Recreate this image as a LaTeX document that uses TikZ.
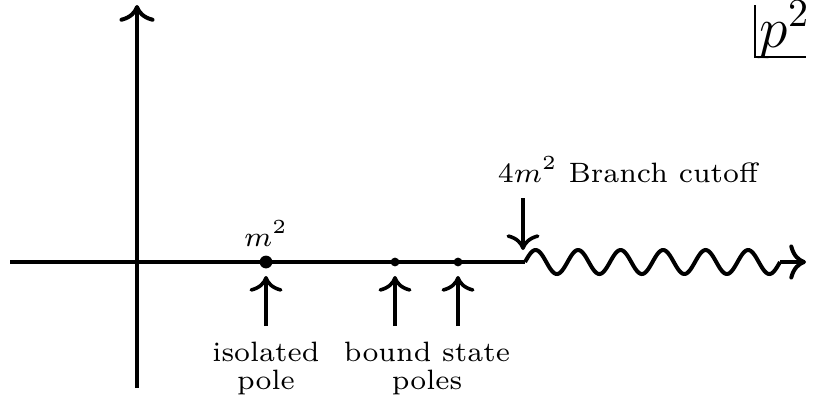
\documentclass[tikz,border=0pt]{standalone}
\usetikzlibrary{arrows.meta}
\begin{document}
\begin{tikzpicture}[x=0.25pt,y=-0.25pt,
  axis/.style={line width=1pt},
  tip/.style={-{Computer Modern Rightarrow[scale=1.1]}},
  ptr/.style={line width=0.9pt,tip},
  lbl/.style={font=\scriptsize,align=center,inner sep=0pt},
  bigdot/.style={circle,fill,inner sep=0pt,minimum size=3.2pt},
  smalldot/.style={circle,fill,inner sep=0pt,minimum size=2.2pt}]
\useasboundingbox (0,0) rectangle (813,399);
% axes
\coordinate (xl) at (10,262);
\coordinate (O) at (137,262);
\coordinate (cut) at (525,262);
\coordinate (wend) at (780,262);
\coordinate (xr) at (806,262);
\coordinate (yb) at (137,388);
\coordinate (yt) at (137,5);
\draw[axis] (xl) -- (cut);
\draw[axis] (cut) plot[domain=0:255,samples=200,smooth] ({525+\x},{262-12*sin(\x/42.5*360)});
\draw[axis,tip] (wend) -- (xr);
\draw[axis,tip] (yb) -- (yt);
% poles
\node[bigdot] (m) at (266,262) {};
\node[smalldot] (b1) at (395,262) {};
\node[smalldot] (b2) at (458,262) {};
\node[font=\scriptsize,anchor=base] (mlab) at (266,246) {$m^2$};
\coordinate (a1) at (266,326);
\coordinate (a2) at (395,326);
\coordinate (a3) at (458,326);
\draw[ptr] (a1) -- (266,276);
\draw[ptr] (a2) -- (395,276);
\draw[ptr] (a3) -- (458,276);
\node[lbl,anchor=base] (iso1) at (266,361) {isolated};
\node[lbl,anchor=base] (iso2) at (266,389) {pole};
\node[lbl,anchor=base] (bs1) at (427,361) {bound state};
\node[lbl,anchor=base] (bs2) at (427,389) {poles};
% branch cut
\node[font=\scriptsize,anchor=base west,inner sep=0pt] (bc) at (497,182) {$4m^2$ Branch cutoff};
\coordinate (c0) at (523,198);
\draw[ptr] (c0) -- (523,250);
% p^2 label
\coordinate (pa) at (755,5);
\coordinate (pb) at (755,57);
\coordinate (pc) at (806,57);
\draw[line width=0.6pt] (pa) -- (pb) -- (pc);
\node[font=\Large,anchor=base east,inner sep=0pt] (p2) at (811,47) {$p^2$};
\end{tikzpicture}
\end{document}
